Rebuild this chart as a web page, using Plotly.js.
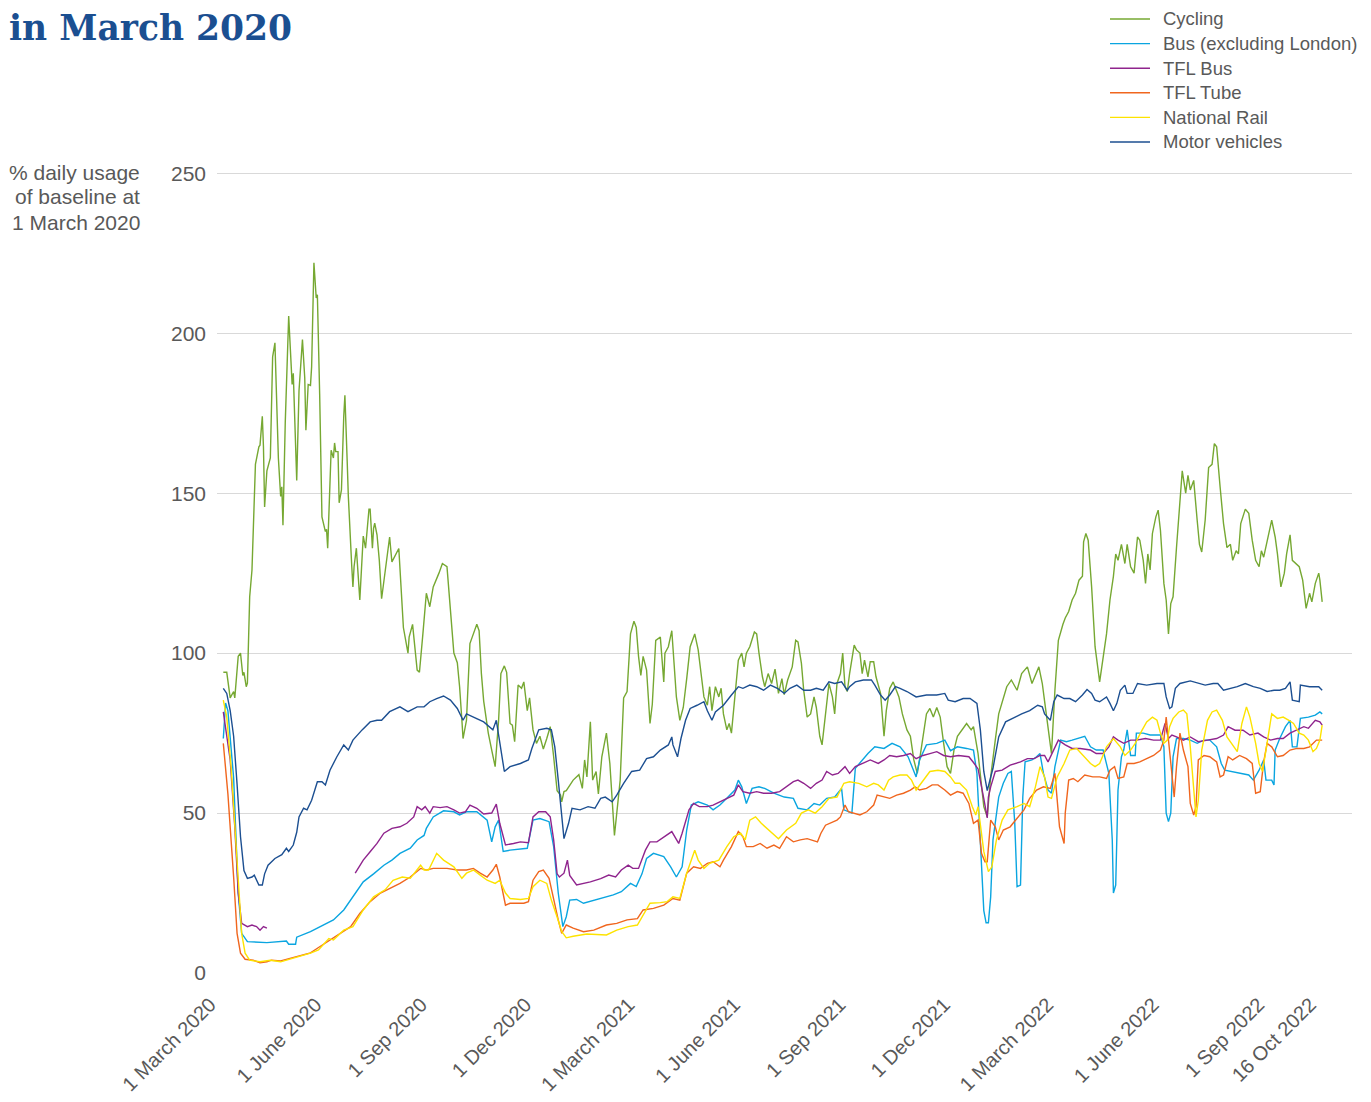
<!DOCTYPE html>
<html><head><meta charset="utf-8">
<script src="https://cdn.plot.ly/plotly-3.0.1.min.js"></script>
<style>html,body{margin:0;padding:0;background:#fff;}</style>
</head><body>
<div id="chart" style="width:1371px;height:1102px"></div>
<script>
// x values: days since 1 March 2020; y values: % of baseline usage
const seriesNames = ['Cycling', 'Bus (excluding London)', 'TFL Bus', 'TFL Tube', 'National Rail', 'Motor vehicles'];
const seriesColors = ['#76a832', '#0aa5e0', '#8f248d', '#f0661e', '#fde300', '#1c4f91'];

const tickDates = ['2020-03-01','2020-06-01','2020-09-01','2020-12-01','2021-03-01','2021-06-01','2021-09-01','2021-12-01','2022-03-01','2022-06-01','2022-09-01','2022-10-16'];
const tickLabels = ['1 March 2020','1 June 2020','1 Sep 2020','1 Dec 2020','1 March 2021','1 June 2021','1 Sep 2021','1 Dec 2021','1 March 2022','1 June 2022','1 Sep 2022','16 Oct 2022'];
const yTicks = [0, 50, 100, 150, 200, 250];
const yTitleLines = ['% daily usage', 'of baseline at', '1 March 2020'];

const cycling = [[1,94],[4,94],[7,86],[10,88],[11,86],[14,99],[16,100],[18,93],[19,94],[21,89.5],[22,90.6],[24,117.6],[26,126],[29,159],[32,164.5],[33,165],[35,174],[36,164.5],[37,145.7],[39,157],[42,161],[44,192.6],[46,197],[49,161],[51,149],[52,152],[53,140],[55,172],[58,205.4],[61,184],[62,187.5],[63,176],[65,154],[67,182],[70,198],[72,186],[73,169.7],[75,184],[77,183.7],[78,189.5],[80,222],[82,211],[83,212],[85,181],[87,142.6],[90,138],[91,138.7],[92,132.8],[95,163.4],[97,161],[98,165.7],[99,163],[101,163],[102,147],[104,151],[106,174],[107,180.6],[109,160],[110,149],[113,127],[114,120.7],[115,127],[117,132.8],[120,116.6],[123,136.6],[125,132.8],[126,137.5],[128,145],[129,145],[131,132.8],[132,139],[133,140.6],[135,137],[137,129],[139,117],[141,123],[144,131],[146,136.3],[148,128.5],[150,130],[154,132.7],[158,108],[162,100],[163,105],[166,109],[170,94.7],[172,94],[175,106],[178,118.7],[181,114.5],[184,120.7],[189,125],[192,128],[196,127],[199,114.5],[202,100],[205,97],[207,89.5],[209,79],[210,73.3],[213,79],[216,103],[218,105],[222,109],[224,107],[226,93.6],[228,85],[232,75],[235,69.7],[238,64.5],[241,79],[243,93.6],[246,96],[248,94],[251,78],[253,77.5],[255,72.3],[258,90],[261,89],[263,91],[266,82],[268,86],[271,76],[274,71.8],[277,74],[280,70],[283,73.3],[286,77],[289,67.6],[292,57],[295,55.6],[296,53.5],[298,56.7],[300,57],[306,60.3],[311,62],[314,57.7],[316,66.6],[318,61.3],[321,78.5],[323,60.3],[326,63],[328,56],[331,67.6],[335,75],[338,65.5],[342,43],[344,50],[347,60.3],[350,86],[353,88],[356,106],[359,110],[361,108],[363,99],[365,93],[367,99],[370,94.7],[373,78],[375,84],[378,104],[382,105],[385,91],[386,100],[389,102],[392,107],[394,96],[396,86.3],[399,79],[402,83],[405,92],[408,102],[412,106],[415,101],[420,86.3],[423,83.7],[425,89.5],[427,82],[430,89.5],[433,86.3],[435,89],[437,81],[440,76],[442,78],[444,75],[447,87.4],[450,97.8],[453,100],[455,95.7],[457,100],[460,102],[464,106.6],[466,106],[468,100],[471,92.6],[473,89.5],[476,93.6],[479,90.5],[482,95],[485,87.4],[488,92],[490,87],[493,91.6],[497,95.7],[500,104],[502,103.5],[505,96.8],[507,88.4],[510,80],[513,81],[516,86.3],[518,83],[521,74],[523,71.3],[526,80],[529,90.5],[532,86.3],[534,81],[536,90.5],[539,93.6],[541,100],[543,89.5],[545,88],[547,93.6],[551,102.5],[553,101],[556,100],[558,93.6],[560,97.8],[563,92.6],[565,97.3],[568,97.3],[570,92.6],[574,87.4],[577,74],[579,82],[582,89],[585,91],[590,86.3],[593,81],[597,76],[600,74],[603,66.6],[606,62.4],[608,66.6],[611,74],[614,81],[617,82.7],[620,80],[623,83],[626,80],[629,71.8],[632,64.5],[635,62.4],[638,69.7],[641,74],[645,76],[649,78],[653,76],[655,77],[659,68.6],[664,52],[667,48.8],[670,61.3],[674,72.8],[677,81],[684,89.5],[688,91.6],[693,88.4],[697,93.6],[702,95.7],[706,90.5],[712,95.7],[715,90.5],[717,85],[720,76],[723,68.6],[726,88.4],[729,104],[733,109],[735,111],[738,113],[741,116.6],[744,118.7],[747,122.8],[750,124],[751,134.8],[753,137.4],[755,135.3],[758,120.7],[761,102],[765,91],[768,97.8],[771,106],[774,116.6],[777,124],[779,131],[781,129],[784,134],[787,128],[789,134],[792,127],[795,125],[798,136.3],[800,135.3],[803,129],[805,121.8],[807,131],[809,126],[811,137.4],[814,142.6],[816,144.7],[818,138.4],[821,121.8],[823,116.6],[825,106],[827,115.5],[829,117.6],[832,133],[834,142.6],[837,157],[840,150],[842,155.6],[844,151],[847,154],[850,141.6],[852,134],[854,131.6],[857,141.6],[860,158],[863,159],[865,165.5],[867,164.5],[870,152],[873,140.5],[876,133],[879,134],[881,129],[884,132],[886,131],[888,140.5],[892,145],[895,143.7],[898,135.3],[901,129],[904,127],[906,132],[908,130],[911,135.3],[915,141.6],[918,136.3],[920,131],[923,120.7],[926,125],[928,131],[931,137],[933,129],[936,128],[939,127],[942,122.8],[945,114],[948,118.7],[950,116],[953,121.8],[956,125],[957,122.8],[959,116]];

const busExLondon = [[1,73.3],[3,84.4],[5,82],[10,61],[14,25],[17,12.4],[22,9.8],[39,9.5],[56,10],[58,9],[64,9],[65,11.2],[77,12.9],[88,15],[97,16.6],[106,19.7],[114,23.8],[123,28.5],[132,31],[141,33.7],[148,35.3],[155,37.4],[164,39],[170,41.6],[176,43],[178,45.2],[184,48.8],[193,50.7],[202,50.4],[207,49.4],[213,50.4],[222,50.4],[231,47.8],[235,41],[238,45.7],[241,47.8],[245,38],[251,38.4],[266,39],[271,47.8],[277,48.3],[285,47.3],[289,39.5],[293,25],[297,14.5],[300,17.6],[303,22.8],[309,23],[315,21.8],[330,23.3],[341,24.4],[348,25.4],[356,28],[361,27],[366,31],[370,35.8],[376,37.4],[385,36.4],[391,33.2],[396,30],[401,33.2],[405,44.7],[409,52.5],[415,53.5],[423,52.5],[428,51],[434,52.5],[441,55],[447,57.2],[450,60.3],[453,58.2],[457,53],[462,57.7],[468,58.2],[473,57.7],[481,56.2],[490,55],[498,54.6],[502,51.5],[510,51],[516,53],[521,52.5],[527,54.6],[534,55],[540,57.7],[542,51],[546,50.4],[549,50],[552,64],[558,66.6],[563,68.6],[569,70.7],[577,70.2],[584,71.8],[591,70.7],[598,67.6],[603,63.4],[605,61.3],[608,66.6],[614,71.3],[623,71.8],[630,72.8],[635,69.5],[641,70.7],[649,70.2],[655,69.7],[658,62.4],[661,42],[664,19.5],[666,15.7],[668,15.7],[670,23.8],[672,41.6],[677,55],[681,59.3],[685,62.4],[688,63],[691,46.8],[693,27],[696,27.5],[698,55],[700,66],[706,66.6],[710,67.6],[713,68.6],[716,62.4],[720,57.2],[723,56.2],[726,64.5],[731,72.8],[736,72.3],[741,72.8],[746,73.3],[752,74],[757,70.7],[762,69.7],[768,69.7],[773,62.4],[776,41.6],[777,25],[779,27.5],[781,57.2],[784,67.6],[786,69.7],[789,76],[792,68],[796,68],[797,75],[803,75],[809,74.4],[818,74.4],[821,70.7],[823,50],[825,47.3],[827,50],[829,67.6],[832,73.3],[838,73.3],[844,72.8],[850,71.8],[856,72.8],[861,72.8],[867,70.7],[871,65.5],[874,63.4],[880,63],[887,62.4],[895,61.9],[899,60.3],[904,63.4],[908,66.6],[910,60.3],[915,60.3],[917,58.8],[918,69.7],[922,73.3],[927,77],[931,79],[933,70.7],[937,70.7],[940,79.6],[947,80],[953,80.6],[957,81.6],[959,81]];

const tflBus = [[1,81.6],[7,66.6],[11,45.7],[14,25],[17,15.5],[22,14.5],[26,15],[30,14.5],[33,13.4],[36,14.5],[39,14],[78,null],[116,31.2],[123,35.3],[129,37.9],[135,40.5],[141,43.7],[148,45.2],[155,45.7],[161,46.8],[167,48.8],[170,52],[174,51],[177,52],[181,50],[184,52],[190,51.7],[196,52],[202,51],[207,50],[212,50.4],[216,52.5],[222,51.5],[228,49.7],[235,50],[239,52.8],[242,46.8],[247,40],[254,40.5],[260,41],[267,40.7],[271,48.8],[276,50.4],[282,50.4],[286,48.8],[289,41.6],[292,31],[294,30],[298,31.2],[301,35.3],[303,30.5],[309,27.5],[321,28.5],[330,29.5],[337,30.6],[343,30],[348,32.2],[354,33.7],[358,32.7],[363,32.7],[369,38.4],[373,41],[379,41],[386,42.6],[392,44.2],[398,40.5],[401,43.7],[407,51],[411,53],[416,52],[423,52],[428,52.5],[434,53.5],[440,54.6],[446,55.6],[450,58.8],[454,56.7],[460,56.2],[466,56.7],[472,56.2],[479,56.2],[486,56.7],[492,58.2],[498,59.8],[502,60.3],[507,59.3],[513,57.7],[518,59.3],[523,60.3],[527,63],[532,61.9],[537,62.4],[543,64.5],[547,62.4],[552,64.5],[559,65.5],[565,66.6],[572,65.5],[577,66.6],[582,68],[588,67.6],[594,68],[600,68.6],[605,67],[611,68],[617,68.6],[623,69.2],[629,68],[635,67.6],[642,68],[651,67.6],[655,65.8],[659,63.8],[664,54.5],[667,48.5],[668,55],[670,58.2],[674,63],[680,63.4],[687,65],[696,66],[702,67],[708,67],[713,68],[717,68],[720,66],[725,69.7],[729,72.8],[735,71.3],[741,70.2],[748,70.2],[757,69.7],[762,68.6],[768,68.6],[773,70.7],[777,73.8],[781,72.8],[786,71.8],[792,72.8],[797,72.8],[805,73.3],[812,72.8],[818,72.8],[822,78],[825,73.3],[828,74.4],[832,73.8],[838,72.8],[844,73.8],[851,72.3],[859,72.8],[867,73.3],[873,74.4],[877,77],[883,75.9],[890,75.9],[896,74.4],[903,75],[908,73.8],[914,72.8],[920,73.3],[925,73.3],[931,75],[937,75.9],[943,77],[947,76.5],[953,79],[957,78.5],[959,77.5]];

const tflTube = [[1,71.8],[5,56],[10,30],[13,12.4],[16,6.2],[20,4.3],[27,4],[33,3.2],[39,3.5],[43,4],[51,3.8],[59,4.6],[68,5.3],[77,6.3],[85,8.2],[94,10.3],[103,12.4],[112,14.5],[120,18.6],[129,22.3],[138,25],[146,26.5],[155,28],[164,30],[173,32.7],[178,32.2],[184,32.7],[196,32.7],[205,32.2],[213,32.2],[219,32.7],[225,31.2],[231,30],[236,32.2],[239,34],[242,30],[247,21.2],[251,21.8],[263,21.8],[267,22.3],[271,29],[276,31.7],[280,32.2],[285,29.6],[289,22.8],[293,16.6],[296,12.4],[300,15],[306,14],[315,12.9],[324,13.4],[335,15],[344,15.5],[353,16.6],[362,17],[367,19.7],[376,20.2],[385,21.2],[393,23.3],[399,22.8],[405,31.2],[411,33.2],[417,32.7],[423,34.3],[428,34.8],[434,33.2],[437,35.3],[444,39.5],[450,44.2],[454,42.6],[457,39.5],[463,39.5],[469,40.5],[475,39],[481,40],[486,39],[492,42.6],[498,41],[504,41.6],[510,42],[519,41],[522,43.7],[526,46.2],[532,47.3],[536,47.8],[539,48.8],[543,52.5],[546,50.4],[550,50],[556,49.4],[562,50.4],[568,52.5],[571,55.6],[577,55],[582,54.6],[588,55.6],[594,56.2],[600,57.2],[604,58.2],[608,57.2],[614,57.7],[619,58.8],[624,58.8],[630,57.2],[635,55.6],[641,56.7],[646,56.2],[651,53],[655,46.8],[659,47.8],[662,37.4],[665,34.8],[667,34.8],[670,47.8],[674,45.7],[677,41.6],[681,44.7],[687,45.7],[693,48.3],[699,51],[704,54.6],[710,57.2],[716,58.2],[722,57.7],[726,62.4],[728,55],[730,45.7],[734,40.5],[735,50],[738,60.3],[742,60.8],[746,59.8],[752,61.9],[759,61.3],[765,61.3],[771,60.8],[774,63.4],[778,64.5],[781,60.8],[786,61.3],[789,65.5],[795,65.5],[800,66],[806,67],[812,68],[818,69.7],[821,72.8],[823,80],[825,72.8],[828,60.3],[830,55],[832,64.5],[835,75],[838,69.7],[842,64.5],[844,53],[847,49.4],[849,52],[851,66.6],[856,68],[861,67.6],[867,66],[870,61.3],[873,61.9],[877,67.6],[881,66.6],[887,68],[893,67],[898,65.5],[901,56.2],[905,56.7],[908,66],[911,71.8],[915,70.7],[920,67.6],[925,68],[931,69.7],[937,70.2],[943,70.2],[948,70.7],[954,72.8],[959,72.8]];

const nationalRail = [[1,85.3],[4,80],[8,63.4],[13,35.3],[17,12.4],[20,6.2],[24,4],[33,3.5],[42,4],[51,3.5],[59,4.3],[68,5.1],[77,6.2],[84,7.2],[93,10.8],[97,10.3],[106,13.4],[114,14.5],[123,19.7],[132,23.8],[142,26],[149,29],[157,30],[164,29.6],[173,33.7],[176,32.2],[180,32.2],[187,37.4],[193,35.3],[202,33.2],[209,29.6],[213,31.2],[219,32.2],[225,30.6],[231,29],[238,28],[242,29],[247,25],[251,23.3],[260,23],[267,23.3],[271,27],[277,29],[283,28],[287,22.8],[292,17.5],[296,13],[300,11],[306,11.5],[318,12.2],[330,12],[335,11.9],[344,13.4],[354,14.5],[362,15],[367,18.1],[373,21.8],[382,22],[388,22.3],[393,23.8],[399,23.3],[405,31.2],[412,38.4],[415,35.3],[420,32.7],[425,34.3],[433,35.3],[440,39.5],[446,42.6],[452,43.7],[456,41.6],[460,47.8],[465,48.8],[470,46.8],[478,44.2],[485,42],[492,44.7],[500,46.8],[505,50],[511,51],[517,50],[523,52],[529,54.6],[536,55],[542,59.3],[547,59.8],[555,59.3],[562,58.2],[568,59.3],[572,58.8],[577,57.2],[581,60.3],[585,61.3],[591,61.9],[597,61.9],[601,60.3],[605,57.2],[611,60.3],[617,63],[624,63.4],[630,63],[635,61.3],[639,59.3],[643,59.3],[649,57.2],[654,52],[657,49.4],[659,52],[664,38],[668,31.7],[671,33.2],[675,41.6],[680,47.8],[685,51],[693,52],[699,53],[704,52],[709,58.2],[713,64.5],[717,61.3],[720,55],[723,54.6],[728,61.3],[734,65.5],[739,69.7],[745,70.2],[751,68],[757,65.5],[761,64.5],[765,65.5],[771,70.7],[777,73.3],[783,70.7],[787,68],[792,69.7],[796,71.8],[802,75.9],[806,78.5],[811,80],[815,79],[818,75],[821,71.8],[824,72.8],[826,77],[829,79.6],[834,81.6],[838,82.2],[841,81],[844,70.7],[847,58.2],[849,48.8],[851,54],[854,69.7],[859,79],[863,81.6],[867,82.2],[872,79],[876,73.8],[880,71.8],[885,69.2],[889,78],[893,83.2],[896,80],[901,71.8],[904,65.5],[907,63],[910,69.7],[913,77],[915,81],[920,79.6],[925,80],[930,79],[934,78],[939,75],[943,74.4],[947,72.8],[951,69.2],[954,70.2],[957,72.8],[959,77.5]];

const motorVehicles = [[1,89],[4,87.4],[7,82],[10,74],[13,59],[16,42.6],[19,32],[22,29.6],[26,30],[28,30.6],[32,27.5],[35,27.5],[37,31],[40,33.7],[46,35.8],[52,37],[56,39],[58,38],[62,40],[65,44],[67,48.8],[71,51.5],[74,51],[78,54],[83,59.8],[87,59.8],[90,58.8],[94,63.4],[100,67.6],[106,71.3],[110,69.7],[114,72.8],[122,76],[129,78.5],[135,79],[139,79],[146,81.7],[155,83.2],[162,81.7],[170,83.2],[176,83.2],[181,84.8],[187,85.8],[193,86.6],[199,85.3],[205,82.7],[210,79],[213,81],[228,78.5],[236,76],[239,79],[246,63],[251,64.5],[260,65.5],[267,66.6],[270,70.2],[276,76],[283,76.5],[287,76],[290,70.7],[293,60.3],[296,48.8],[298,42],[302,46.8],[305,51.5],[312,51],[319,52],[325,51.5],[330,54.6],[334,55],[340,53.5],[344,55.6],[350,59.3],[357,63],[364,63.4],[370,67],[376,67.6],[382,69.7],[389,71.3],[392,73.8],[393,71.3],[397,67.6],[400,73.3],[404,79],[408,82.7],[414,83.7],[420,84.8],[423,82],[427,79],[430,81.6],[437,83.7],[444,86.9],[450,89.5],[454,89],[460,90],[466,89.5],[472,88.4],[478,90],[484,89],[490,87.4],[495,89],[501,90],[507,88.4],[513,88.4],[518,89],[524,88.4],[529,91],[534,90.5],[540,91],[545,88.4],[547,89.5],[552,91],[559,91.6],[566,91.6],[569,90],[574,86.9],[578,85.3],[582,86.9],[587,89.5],[591,89],[597,88],[605,86.3],[614,86.9],[623,86.9],[630,87.4],[633,85.3],[639,84.8],[646,85.8],[652,85.8],[658,84.3],[661,76],[664,63],[667,57],[672,64],[677,73.8],[683,78.5],[691,80],[697,81],[704,82],[711,83.7],[715,83.2],[717,81],[722,79],[725,84.8],[728,86.9],[734,85.8],[739,85.8],[744,84.8],[750,86.9],[754,88.6],[758,87.4],[761,85.3],[765,84.8],[771,86.3],[774,84.3],[777,82],[780,84.3],[783,88.4],[787,90],[789,87.4],[794,87.4],[798,90.5],[806,90],[815,90.5],[821,90.5],[823,86.3],[826,82.7],[828,83.2],[831,89],[835,90.5],[844,91.3],[850,90.7],[857,90],[864,90.5],[868,90.5],[873,88.4],[879,89],[885,89.5],[892,90.5],[899,89.5],[905,89],[911,88],[917,88.4],[922,88.4],[927,89],[931,91],[933,85.3],[939,84.8],[940,90],[948,89.5],[956,89.5],[959,88.4]];

const allSeries = [cycling, busExLondon, tflBus, tflTube, nationalRail, motorVehicles];

function dayToDate(d) {
  const t = new Date(Date.UTC(2020, 2, 1));
  t.setUTCDate(t.getUTCDate() + d);
  return t.toISOString().slice(0, 10);
}

const traces = allSeries.map((s, i) => ({
  type: 'scatter',
  mode: 'lines',
  name: seriesNames[i],
  x: s.map(p => dayToDate(p[0])),
  y: s.map(p => p[1]),
  connectgaps: false,
  line: { color: seriesColors[i], width: 1.4 },
  hoverinfo: 'skip',
  showlegend: false
}));

// page geometry (px) used to place the key and the side label
const W = 1371, H = 1102;
const ml = 217, mr = 19, mt = 172, mb = 129;
const pw = W - ml - mr, ph = H - mt - mb;
const px2x = px => (px - ml) / pw;
const py2y = py => (H - mb - py) / ph;

const textGray = '#595959';
const shapes = [];
const annotations = [];

// key (legend) at top right
seriesNames.forEach((name, i) => {
  const yc = 19 + i * 24.6;
  shapes.push({
    type: 'line', xref: 'paper', yref: 'paper',
    x0: px2x(1110), x1: px2x(1150), y0: py2y(yc), y1: py2y(yc),
    line: { color: seriesColors[i], width: 1.4 }
  });
  annotations.push({
    text: name, xref: 'paper', yref: 'paper',
    x: px2x(1161), y: py2y(yc), xanchor: 'left', yanchor: 'middle',
    showarrow: false, font: { size: 18.5, color: textGray }
  });
});

// y-axis label, right aligned, three lines
yTitleLines.forEach((line, i) => {
  annotations.push({
    text: line, xref: 'paper', yref: 'paper',
    x: px2x(142), y: py2y(172 + i * 25), xanchor: 'right', yanchor: 'middle',
    showarrow: false, font: { size: 21, color: textGray }
  });
});

const layout = {
  width: W, height: H,
  margin: { l: ml, r: mr, t: mt, b: mb, pad: 0, autoexpand: false },
  paper_bgcolor: '#ffffff', plot_bgcolor: '#ffffff',
  font: { family: 'Liberation Sans, Arial, sans-serif', color: textGray, size: 20 },
  title: {
    text: 'in March 2020',
    font: { family: 'DejaVu Serif, serif', size: 34.5, color: '#1b4f91', weight: 'bold' },
    x: 9 / W, xanchor: 'left', xref: 'container',
    y: 1 - 28 / H, yanchor: 'middle', yref: 'container'
  },
  showlegend: false,
  xaxis: {
    type: 'date',
    range: ['2020-02-25 12:00', '2022-11-11'],
    tickmode: 'array', tickvals: tickDates, ticktext: tickLabels,
    tickangle: -45, showgrid: false, zeroline: false, showline: false, ticks: '',
    tickfont: { size: 20, color: textGray },
    ticklabelstandoff: 15, ticklabelshift: -12
  },
  yaxis: {
    range: [0, 250.4], tickmode: 'array', tickvals: yTicks,
    showgrid: true, gridcolor: '#d9d9d9', gridwidth: 1,
    zeroline: false, showline: false, ticks: '',
    tickfont: { size: 21, color: textGray }, ticklabelstandoff: 10
  },
  shapes: shapes,
  annotations: annotations
};

Plotly.newPlot('chart', traces, layout, { staticPlot: true, displayModeBar: false });
</script>
</body></html>
